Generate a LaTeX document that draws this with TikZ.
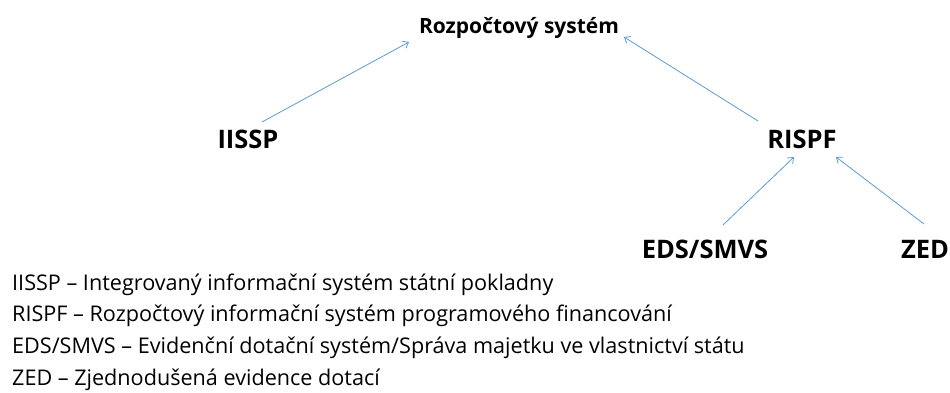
\documentclass[tikz,border=0pt]{standalone}
\usepackage{fontspec}
\setmainfont{Open Sans}
\usetikzlibrary{arrows.meta}

\definecolor{linkblue}{RGB}{91,155,213}
\tikzstyle{hlav} = [style={anchor=base, font=\bfseries\fontsize{21}{24}\selectfont, inner sep=0pt}]
\tikzstyle{sys} = [style={anchor=base, font=\bfseries\fontsize{25.5}{30}\selectfont, inner sep=0pt}]
\tikzstyle{leg} = [style={anchor=base west, font=\fontsize{21.6}{25}\selectfont, inner sep=0pt}]
\tikzstyle{feed} = [style={draw=linkblue, line width=0.8pt, -{Straight Barb[length=5pt,width=8pt]}}]
\newcommand*{\legx}{12}

\begin{document}
\begin{tikzpicture}[x=1pt,y=-1pt]
\useasboundingbox (0,0) rectangle (950,392);

%% systems
\node [hlav] (rs) at (519,33) {Rozpočtový systém};
\node [sys] (iissp) at (248,148) {IISSP};
\node [sys] (rispf) at (802,148) {RISPF};
\node [sys] (eds) at (705,258) {EDS/SMVS};
\node [sys] (zed) at (925,258) {ZED};

%% links
\draw [feed] ([shift={(14,-26)}]iissp.base) -- ([shift={(-110,9)}]rs.base);
\draw [feed] ([shift={(-44,-27)}]rispf.base) -- ([shift={(105,4)}]rs.base);
\draw [feed] ([shift={(18,-33)}]eds.base) -- ([shift={(-8,9)}]rispf.base);
\draw [feed] ([shift={(-1,-34)}]zed.base) -- ([shift={(34,9)}]rispf.base);

%% legend
\node [leg] (l1) at (\legx,290) {IISSP – Integrovaný informační systém státní pokladny};
\node [leg] (l2) at (\legx,321.5) {RISPF – Rozpočtový informační systém programového financování};
\node [leg] (l3) at (\legx,353) {EDS/SMVS – Evidenční dotační systém/Správa majetku ve vlastnictví státu};
\node [leg] (l4) at (\legx,385) {ZED – Zjednodušená evidence dotací};

\end{tikzpicture}
\end{document}
